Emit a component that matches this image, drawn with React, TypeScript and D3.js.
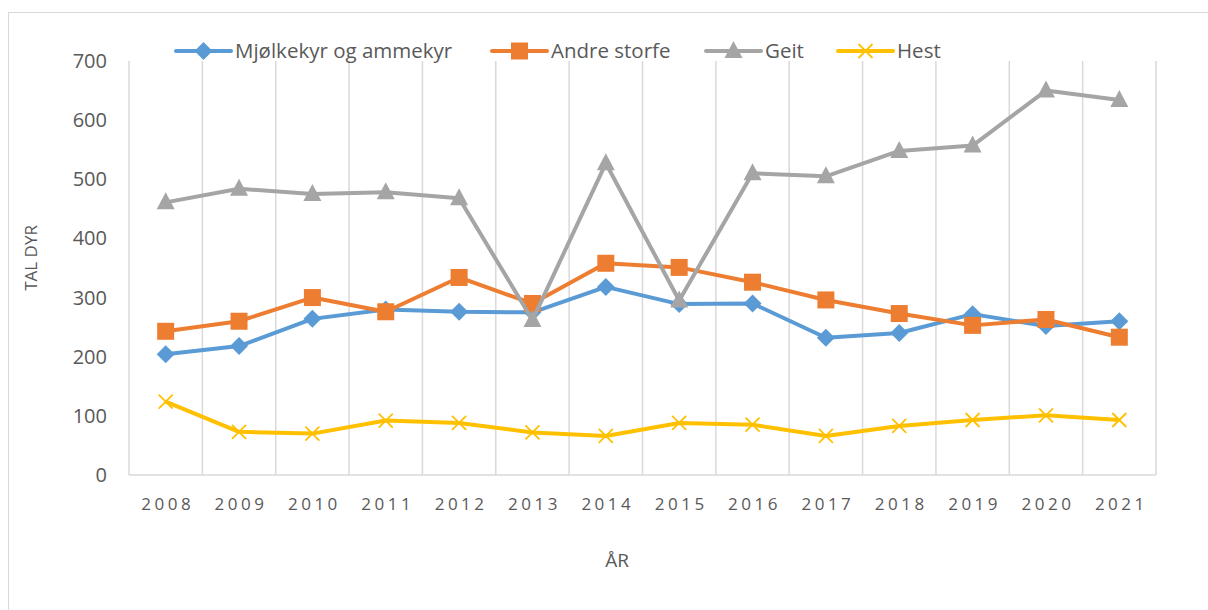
import React, { useEffect, useRef } from 'react';
import * as d3 from 'd3';

const years = ['2008', '2009', '2010', '2011', '2012', '2013', '2014', '2015', '2016', '2017', '2018', '2019', '2020', '2021'];
const mjolkekyr = [204, 218, 264, 280, 276, 275, 318, 289, 290, 232, 240, 272, 252, 260];
const andreStorfe = [243, 260, 300, 276, 334, 290, 358, 351, 326, 296, 273, 253, 263, 233];
const geit = [461, 484, 475, 478, 468, 262, 527, 295, 510, 505, 548, 557, 650, 634];
const hest = [124, 73, 70, 92, 88, 72, 66, 88, 85, 66, 83, 93, 101, 93];
const yTicks = [0, 100, 200, 300, 400, 500, 600, 700];

const series = [
  { name: 'Mjølkekyr og ammekyr', values: mjolkekyr, color: '#5B9BD5', marker: 'diamond' },
  { name: 'Andre storfe', values: andreStorfe, color: '#ED7D31', marker: 'square' },
  { name: 'Geit', values: geit, color: '#A5A5A5', marker: 'triangle' },
  { name: 'Hest', values: hest, color: '#FFC000', marker: 'cross' },
];

const W = 1208;
const H = 610;
const FONT = '"Open Sans", "Noto Sans", sans-serif';

function drawMarker(g: any, kind: string, x: number, y: number, color: string) {
  if (kind === 'diamond') {
    g.append('path')
      .attr('d', `M${x},${y - 9}L${x + 9},${y}L${x},${y + 9}L${x - 9},${y}Z`)
      .attr('fill', color);
  } else if (kind === 'square') {
    g.append('rect')
      .attr('x', x - 8.5).attr('y', y - 8.5)
      .attr('width', 17).attr('height', 17)
      .attr('fill', color);
  } else if (kind === 'triangle') {
    g.append('path')
      .attr('d', `M${x},${y - 10}L${x + 9},${y + 7}L${x - 9},${y + 7}Z`)
      .attr('fill', color);
  } else {
    g.append('path')
      .attr('d', `M${x - 7},${y - 7}L${x + 7},${y + 7}M${x + 7},${y - 7}L${x - 7},${y + 7}`)
      .attr('stroke', color)
      .attr('stroke-width', 1.8)
      .attr('fill', 'none');
  }
}

export default function App() {
  const ref = useRef<SVGSVGElement>(null);

  useEffect(() => {
    const svg = d3.select(ref.current);
    svg.selectAll('*').remove();

    // outer chart frame
    svg.append('rect')
      .attr('x', 8.5).attr('y', 12.5)
      .attr('width', 1220).attr('height', 620)
      .attr('fill', '#fff')
      .attr('stroke', '#d9d9d9');

    const left = 129, right = 1156, top = 61, bottom = 475;

    const x = d3.scaleBand().domain(years).range([left, right]);
    const y = d3.scaleLinear().domain([0, 700]).range([bottom, top]);

    // vertical gridlines at category boundaries
    const bounds = d3.range(years.length + 1).map(i => left + i * x.step());
    svg.append('g').selectAll('line')
      .data(bounds)
      .enter()
      .append('line')
      .attr('x1', d => d).attr('x2', d => d)
      .attr('y1', top).attr('y2', bottom)
      .attr('stroke', '#d9d9d9')
      .attr('stroke-width', 1.5);

    svg.append('line')
      .attr('x1', left).attr('x2', right)
      .attr('y1', bottom).attr('y2', bottom)
      .attr('stroke', '#d9d9d9')
      .attr('stroke-width', 1.5);

    // y tick labels
    svg.append('g').selectAll('text')
      .data(yTicks)
      .enter()
      .append('text')
      .attr('x', 107)
      .attr('y', d => y(d))
      .attr('dy', '0.35em')
      .attr('text-anchor', 'end')
      .attr('font-family', FONT)
      .attr('font-size', 20)
      .attr('fill', '#595959')
      .text(d => d);

    // x tick labels
    svg.append('g').selectAll('text')
      .data(years)
      .enter()
      .append('text')
      .attr('x', d => (x(d) as number) + x.bandwidth() / 2 + 2)
      .attr('y', 510)
      .attr('text-anchor', 'middle')
      .attr('font-family', FONT)
      .attr('font-size', 17)
      .attr('letter-spacing', 3.5)
      .attr('fill', '#595959')
      .text(d => d);

    // axis titles
    svg.append('text')
      .attr('x', 617).attr('y', 567)
      .attr('text-anchor', 'middle')
      .attr('font-family', FONT)
      .attr('font-size', 19)
      .attr('fill', '#595959')
      .text('ÅR');

    svg.append('text')
      .attr('transform', 'translate(37,258) rotate(-90)')
      .attr('text-anchor', 'middle')
      .attr('font-family', FONT)
      .attr('font-size', 17)
      .attr('fill', '#595959')
      .text('TAL DYR');

    const line = d3.line<number>()
      .x((d, i) => (x(years[i]) as number) + x.bandwidth() / 2)
      .y(d => y(d));

    series.forEach(s => {
      const g = svg.append('g');
      g.append('path')
        .datum(s.values)
        .attr('d', line)
        .attr('fill', 'none')
        .attr('stroke', s.color)
        .attr('stroke-width', 4)
        .attr('stroke-linejoin', 'round');
      s.values.forEach((v, i) => {
        drawMarker(g, s.marker, (x(years[i]) as number) + x.bandwidth() / 2, y(v), s.color);
      });
    });

    // legend
    const legendX = [176, 492, 706, 838];
    series.forEach((s, i) => {
      const g = svg.append('g');
      const lx = legendX[i];
      g.append('line')
        .attr('x1', lx).attr('x2', lx + 55)
        .attr('y1', 51).attr('y2', 51)
        .attr('stroke', s.color)
        .attr('stroke-width', 4)
        .attr('stroke-linecap', 'round');
      drawMarker(g, s.marker, lx + 27.5, 51, s.color);
      g.append('text')
        .attr('x', lx + 59).attr('y', 51)
        .attr('dy', '0.35em')
        .attr('font-family', FONT)
        .attr('font-size', 20.5)
        .attr('fill', '#595959')
        .text(s.name);
    });
  }, []);

  return (
    <svg ref={ref} width={W} height={H} style={{ position: 'absolute', left: 0, top: 0 }} />
  );
}
